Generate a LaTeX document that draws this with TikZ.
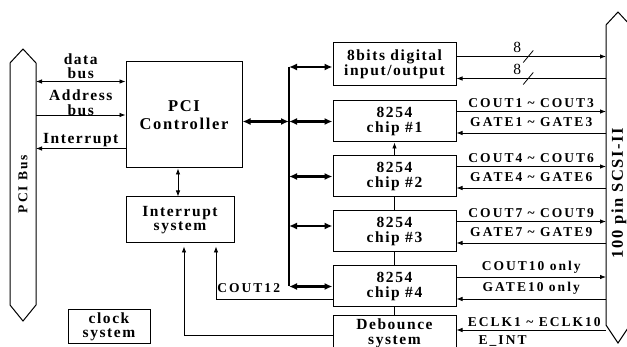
\documentclass[tikz,border=0pt]{standalone}
\usepackage{fontspec}
\setmainfont{Liberation Serif}
\newfontfamily\boxfont[LetterSpace=10]{Liberation Serif}
\newfontfamily\sigfont[LetterSpace=15]{Liberation Serif}
\usetikzlibrary{positioning, arrows.meta}
\tikzset{
  every node/.style={text=black, inner sep=1pt},
  block/.style={draw=black, line width=1pt, align=center, inner sep=0pt,
    font=\boxfont\bfseries\fontsize{15.5}{14.5}\selectfont},
  chipbox/.style={minimum width=123pt, minimum height=41pt},
  sidelbl/.style={align=center, font=\boxfont\bfseries\fontsize{15.5}{14.5}\selectfont},
  siglbl/.style={font=\sigfont\bfseries\fontsize{13.5}{14}\selectfont},
  eightlbl/.style={font=\rmfamily\fontsize{15.5}{15}\selectfont},
  sig/.style={line width=0.8pt, -{Latex[length=6pt, width=4.5pt]}},
  sigboth/.style={line width=0.8pt, {Latex[length=6pt, width=4.5pt]}-{Latex[length=6pt, width=4.5pt]}},
  buswide/.style={line width=2.4pt, {Latex[length=8pt, width=7pt]}-{Latex[length=8pt, width=7pt]}},
  busbar/.style={line width=2.4pt},
  busshape/.style={draw=black, line width=1pt}
}

\begin{document}
\begin{tikzpicture}[x=1pt, y=-1pt, node distance=13pt]
  \useasboundingbox (0,0) rectangle (627,347);
  % Nodes
  \node (ctrl) [block, minimum width=116pt, minimum height=106pt,
    font=\boxfont\bfseries\fontsize{16.5}{18}\selectfont] at (184,115) {PCI\\Controller};
  \node (intsys) [block, below=28pt of ctrl, xshift=-4pt, minimum width=108pt, minimum height=46pt] {Interrupt\\system};
  \node (clk) [block, minimum width=82pt, minimum height=34pt] at (109,327) {clock\\system};
  \node (dio) [block, chipbox, minimum height=43pt] at (394.5,64.5) {8bits digital\\input/output};
  \node (chip1) [block, chipbox, below=14pt of dio] {8254\\chip \#1};
  \node (chip2) [block, chipbox, below=of chip1] {8254\\chip \#2};
  \node (chip3) [block, chipbox, below=of chip2] {8254\\chip \#3};
  \node (chip4) [block, chipbox, below=of chip3] {8254\\chip \#4};
  \node (deb) [block, chipbox, below=8pt of chip4, minimum height=35pt] {Debounce\\system};

  % PCI bus and SCSI connector
  \draw[busshape] (10,63) -- (23,49) -- (36,63) -- (36,305) -- (23,321) -- (10,305) -- cycle;
  \node (pcilbl) [siglbl, rotate=90] at (23,184) {PCI Bus};
  \coordinate (pci) at (36,184);
  \draw[busshape] (606,25) -- (618,12) -- (630,25) -- (630,325) -- (618,343) -- (606,325) -- cycle;
  \node (scsilbl) [sidelbl, font=\boxfont\bfseries\fontsize{16.5}{16}\selectfont, rotate=90] at (619,193) {100 pin SCSI-II};
  \coordinate (scsi) at (606,193);
  \coordinate (bus) at (289,193);

  % PCI side
  \coordinate (dbus) at ([yshift=-20pt]ctrl.north west);
  \coordinate (abus) at (ctrl.west);
  \coordinate (ibus) at ([yshift=20pt]ctrl.south west);
  \draw[sigboth] (pci |- dbus) -- node[sidelbl, above=1pt] {data\\bus} (dbus);
  \draw[sig] (pci |- abus) -- node[sidelbl, above=-2pt] {Address\\bus} (abus);
  \draw[sig] (ibus) -- node[sidelbl, above] {Interrupt} (pci |- ibus);
  \draw[sigboth] ([xshift=-2pt]intsys.north) -- ([xshift=-2pt]intsys.north |- ctrl.south);

  % local bus
  \coordinate (dioin) at ([yshift=-2.5pt]dio.west);
  \coordinate (chip3in) at ([yshift=5.5pt]chip3.west);
  \draw[busbar] (bus |- dioin) -- (bus |- chip4.west);
  \draw[buswide] (ctrl.east |- chip1.west) -- (bus |- chip1.west);
  \draw[buswide] (bus |- dioin) -- (dioin);
  \draw[buswide] (bus |- chip1.west) -- (chip1.west);
  \draw[buswide] (bus |- chip2.west) -- (chip2.west);
  \draw[buswide] (bus |- chip3in) -- (chip3in);
  \draw[buswide] (bus |- chip4.west) -- (chip4.west);

  % chip cascade
  \draw[sig] (chip2.north) -- (chip1.south);
  \draw[line width=0.8pt] (chip2.south) -- (chip3.north);
  \draw[line width=0.8pt] (chip3.south) -- (chip4.north);
  \draw[line width=0.8pt] (chip4.south) -- (deb.north);

  % interrupt sources
  \draw[sig, shorten >=3pt] ([yshift=-13pt]chip4.west) -| node[siglbl, pos=0.5, anchor=south west, yshift=5pt] {COUT12} ([xshift=36pt]intsys.south);
  \draw[sig, shorten >=3pt] ([yshift=-2pt]deb.west) -| ([xshift=4pt]intsys.south);

  % SCSI side
  \coordinate (dioout) at ([yshift=8pt]dio.east);
  \coordinate (dioback) at ([yshift=-14pt]dio.east);
  \draw[sig] (dioout) -- coordinate[pos=0.48] (s1) (dioout -| scsi);
  \draw[sig] (dioback -| scsi) -- coordinate[pos=0.52] (s2) (dioback);
  \draw[line width=0.8pt] (s1) ++(-5,6) -- ++(10,-12);
  \draw[line width=0.8pt] (s2) ++(-5,6) -- ++(10,-12);
  \node (eight1) [eightlbl] at ([xshift=-11pt, yshift=9pt]s1) {8};
  \node (eight2) [eightlbl] at ([xshift=-11pt, yshift=9pt]s2) {8};

  \coordinate (c1o) at ([yshift=10pt]chip1.east);
  \coordinate (c1i) at ([yshift=-11.5pt]chip1.east);
  \draw[sig] (c1o) -- node[siglbl, above=2pt] {COUT1 \textasciitilde{} COUT3} (c1o -| scsi);
  \draw[sig] (c1i -| scsi) -- node[siglbl, above=5pt] {GATE1 \textasciitilde{} GATE3} (c1i);
  \coordinate (c2o) at ([yshift=10pt]chip2.east);
  \coordinate (c2i) at ([yshift=-11.5pt]chip2.east);
  \draw[sig] (c2o) -- node[siglbl, above=2pt] {COUT4 \textasciitilde{} COUT6} (c2o -| scsi);
  \draw[sig] (c2i -| scsi) -- node[siglbl, above=5pt] {GATE4 \textasciitilde{} GATE6} (c2i);
  \coordinate (c3o) at ([yshift=10pt]chip3.east);
  \coordinate (c3i) at ([yshift=-11.5pt]chip3.east);
  \draw[sig] (c3o) -- node[siglbl, above=2pt] {COUT7 \textasciitilde{} COUT9} (c3o -| scsi);
  \draw[sig] (c3i -| scsi) -- node[siglbl, above=5pt] {GATE7 \textasciitilde{} GATE9} (c3i);
  \coordinate (c4o) at ([yshift=9.5pt]chip4.east);
  \coordinate (c4i) at ([yshift=-12.5pt]chip4.east);
  \draw[sig] (c4o) -- node[siglbl, above=2pt] {COUT10 only} (c4o -| scsi);
  \draw[sig] (c4i -| scsi) -- node[siglbl, above=3pt] {GATE10 only} (c4i);
  \coordinate (eclk) at ([yshift=3.5pt]deb.east);
  \draw[sig] (eclk -| scsi) -- node[siglbl, above=2pt, xshift=3pt] {ECLK1 \textasciitilde{} ECLK10} (eclk);
  \node (eint) [siglbl, anchor=west] at ([xshift=21pt, yshift=-8pt]deb.east) {E\_INT};
\end{tikzpicture}
\end{document}
